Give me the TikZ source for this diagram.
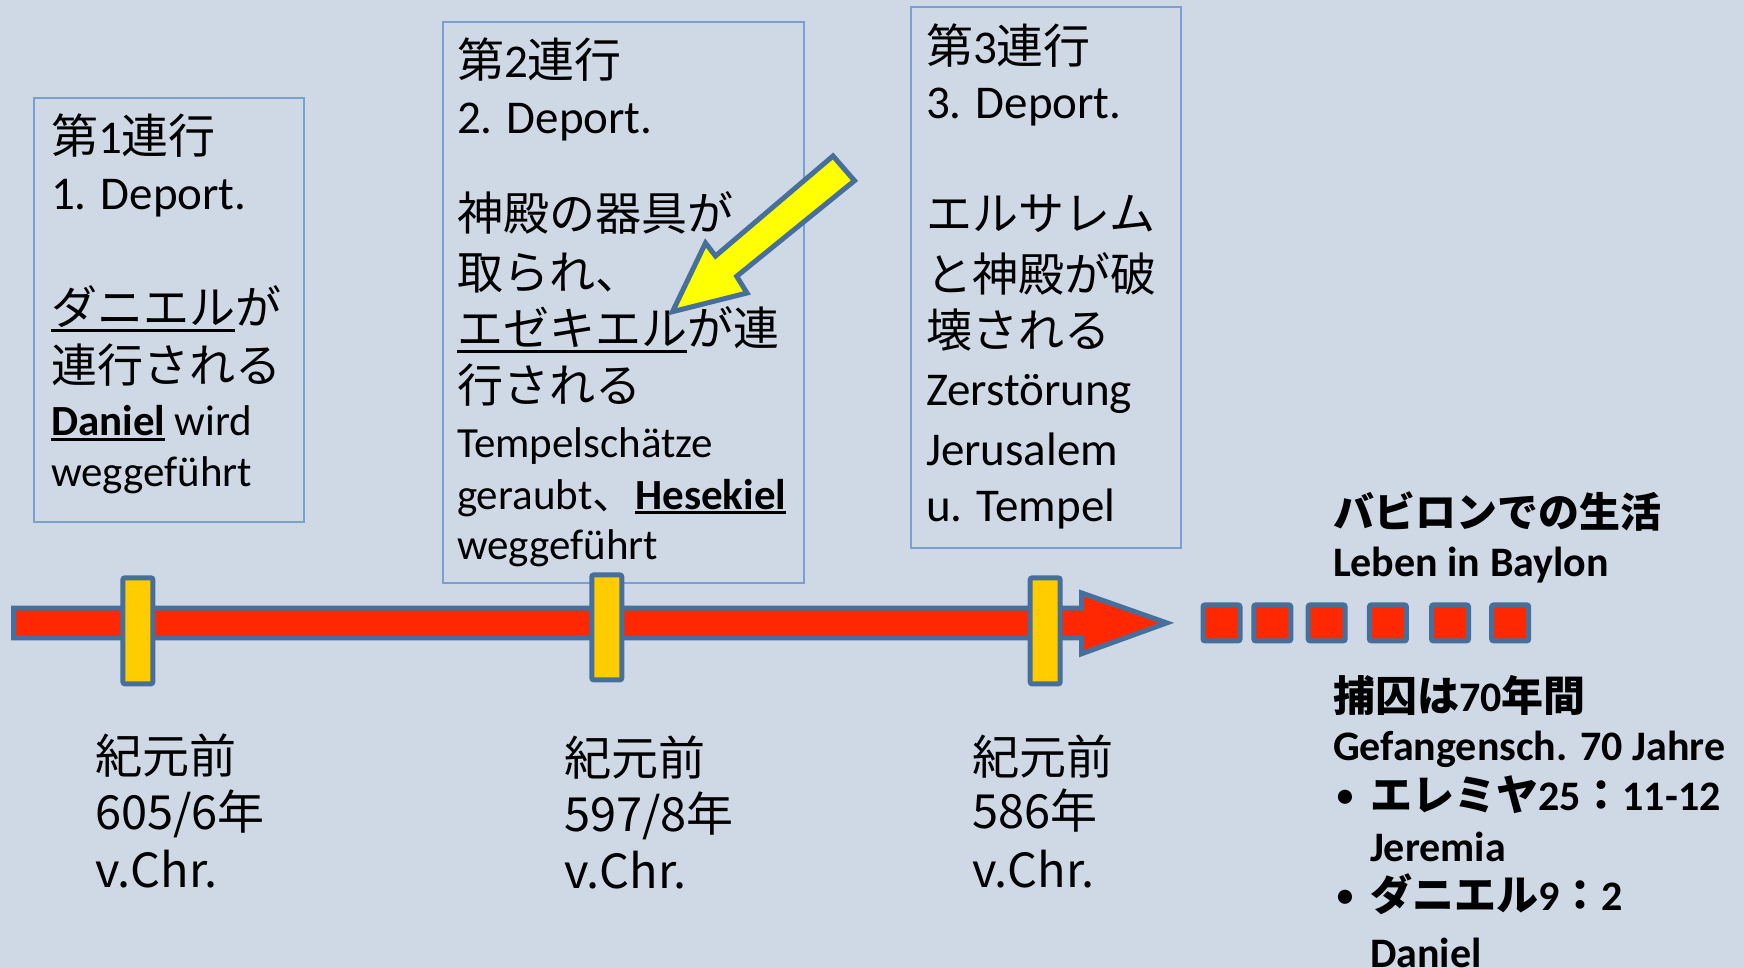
\documentclass[tikz,border=0pt]{standalone}
\usepackage{fontspec}
\setmainfont{Carlito}
\newfontfamily\jp{Noto Sans CJK JP}
\newcommand\J[1]{{\jp #1}}
\newcommand\fs[1]{\fontsize{#1pt}{#1pt}\selectfont}
\newsavebox\ulbox
\newcommand\ulx[2]{\sbox\ulbox{#2}\rlap{\rule[-#1pt]{\wd\ulbox}{3pt}}\usebox\ulbox}
\definecolor{bg}{RGB}{207,217,229}
\definecolor{barred}{RGB}{255,40,0}
\definecolor{tickyellow}{RGB}{255,204,0}
\definecolor{edgeblue}{RGB}{71,111,155}
\definecolor{boxline}{RGB}{120,160,210}
\definecolor{arrowyellow}{RGB}{255,255,0}
\begin{document}
\begin{tikzpicture}[x=1pt,y=-1pt,
  txt/.style={anchor=base west, inner sep=0pt, outer sep=0pt},
  frame/.style={draw=boxline, line width=2pt, anchor=north west, inner sep=0pt},
  edge/.style={draw=edgeblue, line width=5pt, line join=miter},
  tick/.style={edge, fill=tickyellow, rounded corners=2pt, minimum width=30pt, inner sep=0pt},
  sq/.style={edge, fill=barred, rounded corners=2pt, minimum width=37pt, minimum height=36pt, inner sep=0pt},
  hd/.style={txt, font=\fs{47}},
  jb/.style={txt, font=\fs{46}\jp},
  gb/.style={txt, font=\fs{43}},
  gl/.style={txt, font=\fs{47}},
  yl/.style={txt, font=\fs{47}\jp},
  rb/.style={txt, font=\fs{42}\bfseries},
  rj/.style={txt, font=\fs{41}\bfseries\jp},
  bul/.style={txt, font=\fs{40}},
]
\fill[bg] (0,0) rectangle (1744,968);
\useasboundingbox (0,0) rectangle (1744,968);

% boxes
\node[frame, minimum width=269.7pt, minimum height=424.7pt] (box1) at (33.3,96.7) {};
\node[frame, minimum width=361.2pt, minimum height=560.7pt] (box2) at (441.5,21.3) {};
\node[frame, minimum width=269.9pt, minimum height=541.4pt] (box3) at (910.3,6) {};

% box 1 text
\node[hd] (b1h1) at (51,154) {\J{第}1\J{連行}};
\node[hd] (b1h2) at (51,210) {1. Deport.};
\node[jb] (b1j1) at (51,324) {\ulx{7.5}{ダニエル}が};
\node[jb] (b1j2) at (51,382) {連行される};
\node[gb] (b1g1) at (51,435) {\ulx{5.5}{\textbf{Daniel}} wird};
\node[gb] (b1g2) at (51,486) {weggeführt};

% box 2 text
\node[hd] (b2h1) at (457,78) {\J{第}2\J{連行}};
\node[hd] (b2h2) at (457,134) {2. Deport.};
\node[jb] (b2j1) at (457,230.5) {神殿の器具が};
\node[jb] (b2j2) at (457,289.5) {取られ、};
\node[jb] (b2j3) at (457,345) {\ulx{7.5}{エゼキエル}が連};
\node[jb] (b2j4) at (457,402.5) {行される};
\node[gb] (b2g1) at (457,457) {Tempelschätze};
\node[gb] (b2g2) at (457,509) {geraubt\J{、}\ulx{5}{\textbf{Hesekiel}}};
\node[gb] (b2g3) at (457,559) {weggeführt};

% box 3 text
\node[hd] (b3h1) at (926,64) {\J{第}3\J{連行}};
\node[hd] (b3h2) at (926,118.6) {3. Deport.};
\node[jb] (b3j1) at (926,230.5) {エルサレム};
\node[jb] (b3j2) at (926,291.5) {と神殿が破};
\node[jb] (b3j3) at (926,347) {壊される};
\node[gl] (b3g1) at (926,405.7) {Zerstörung};
\node[gl] (b3g2) at (926,465) {Jerusalem};
\node[gl] (b3g3) at (926,521) {u. Tempel};

% timeline bar with arrow head
\path[edge, fill=barred] (13.5,608) -- (1081.7,608) -- (1081.7,593) -- (1166.7,622.9)
  -- (1081.7,653.7) -- (1081.7,637.8) -- (13.5,637.8) -- cycle;

% ticks
\node[tick, minimum height=106pt] (t1) at (137.9,630.8) {};
\node[tick, minimum height=105pt] (t2) at (606.8,627.4) {};
\node[tick, minimum height=106pt] (t3) at (1045.2,630.9) {};

% squares
\foreach \i/\x in {1/1221.5,2/1272.3,3/1326.7,4/1387.9,5/1450,6/1510.2}
  \node[sq] (s\i) at (\x,622.9) {};

% year labels
\node[yl] (y1a) at (95,773.5) {紀元前};
\node[yl] (y1b) at (95,829) {605/6年};
\node[yl] (y1c) at (95,887) {v.Chr.};
\node[yl] (y2a) at (564,775) {紀元前};
\node[yl] (y2b) at (564,831) {597/8年};
\node[yl] (y2c) at (564,888) {v.Chr.};
\node[yl] (y3a) at (972,774) {紀元前};
\node[yl] (y3b) at (972,828) {586年};
\node[yl] (y3c) at (972,887) {v.Chr.};

% right column
\node[rj] (r1) at (1333,527) {バビロンでの生活};
\node[rb] (r2) at (1333,576) {Leben in Baylon};
\node[rb] (r3) at (1333,711) {\J{捕囚は}70\J{年間}};
\node[rb] (r4) at (1333,760.7) {Gefangensch. 70 Jahre};
\node[bul] (r5b) at (1335,808) {•};
\node[rb] (r5) at (1370,810) {\J{エレミヤ}25\J{：}11-12};
\node[rb] (r6) at (1370,861.7) {Jeremia};
\node[bul] (r7b) at (1335,908) {•};
\node[rb] (r7) at (1370,910) {\J{ダニエル}9\J{：}2};
\node[rb] (r8) at (1370,967) {Daniel};

% yellow pointer arrow
\path[edge, fill=arrowyellow] (833,156) -- (854.5,180.7) -- (736.7,276.3) -- (747,293)
  -- (672.5,311.7) -- (705.5,243) -- (715.5,256) -- cycle;
\end{tikzpicture}
\end{document}
